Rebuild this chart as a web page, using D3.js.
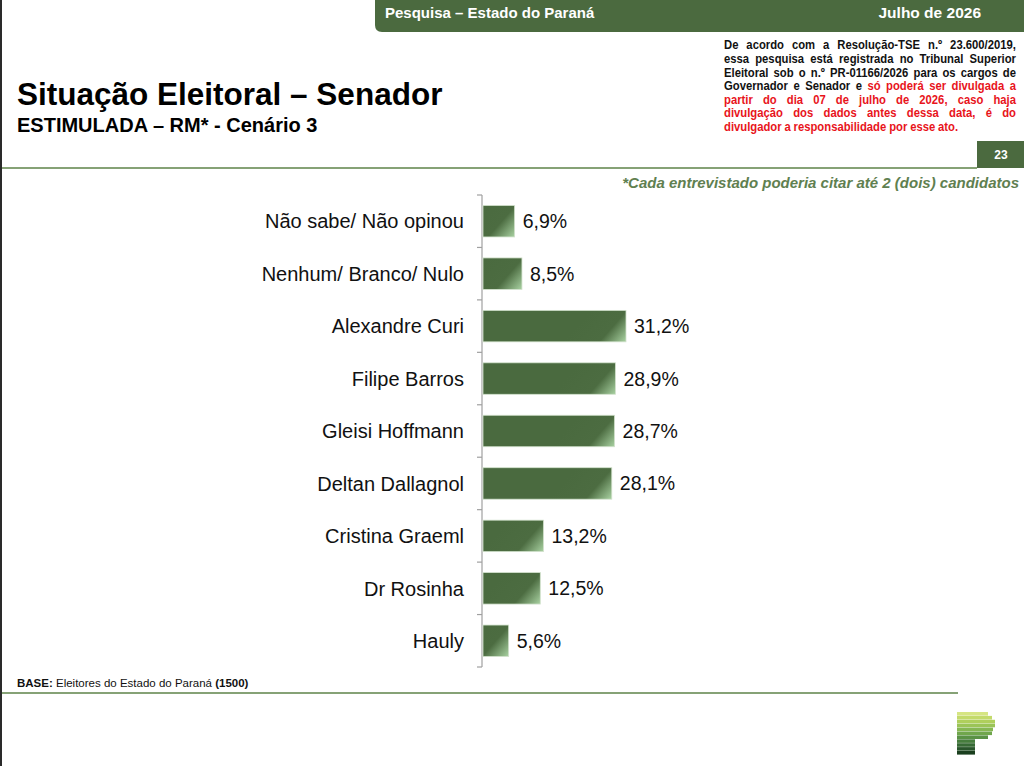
<!DOCTYPE html>
<html>
<head>
<meta charset="utf-8">
<script src="https://cdn.jsdelivr.net/npm/d3@7"></script>
<style>
  body { margin: 0; background: #fff; }
  svg { display: block; }
  text { font-family: "Liberation Sans", Arial, sans-serif; }
</style>
</head>
<body>
<svg width="1024" height="766"></svg>
<script>
// Situação Eleitoral – Senador, estimulada RM, cenário 3

var categories = ["Não sabe/ Não opinou", "Nenhum/ Branco/ Nulo", "Alexandre Curi", "Filipe Barros",
	"Gleisi Hoffmann", "Deltan Dallagnol", "Cristina Graeml", "Dr Rosinha", "Hauly"];
var values = [6.9, 8.5, 31.2, 28.9, 28.7, 28.1, 13.2, 12.5, 5.6];
var value_labels = ["6,9%", "8,5%", "31,2%", "28,9%", "28,7%", "28,1%", "13,2%", "12,5%", "5,6%"];

var legal_lines = [
	[["De acordo com a Resolução-TSE n.º 23.600/2019,", "#111"]],
	[["essa pesquisa está registrada no Tribunal Superior", "#111"]],
	[["Eleitoral sob o n.º PR-01166/2026 para os cargos de", "#111"]],
	[["Governador e Senador e", "#111"], ["só poderá ser divulgada a", "#e8141b"]],
	[["partir do dia 07 de julho de 2026, caso haja", "#e8141b"]],
	[["divulgação dos dados antes dessa data, é do", "#e8141b"]],
	[["divulgador a responsabilidade por esse ato.", "#e8141b"]]
];

var green = "#4b6a3f";
var rule_green = "#86a276";

var svg = d3.select("svg");
var defs = svg.append("defs");

// left page edge
svg.append("rect").attr("x", 0).attr("y", 0).attr("width", 2).attr("height", 766).attr("fill", "#2a2a2a");

// header band
svg.append("path")
	.attr("d", "M375,0 H1024 V32 H382 Q375,32 375,25 Z")
	.attr("fill", green);
svg.append("text").attr("x", 385).attr("y", 18)
	.attr("font-size", 15).attr("font-weight", "bold").attr("fill", "#fff")
	.text("Pesquisa – Estado do Paraná");
svg.append("text").attr("x", 981).attr("y", 18).attr("text-anchor", "end")
	.attr("font-size", 15.5).attr("font-weight", "bold").attr("fill", "#fff")
	.text("Julho de 2026");

// title
svg.append("text").attr("x", 17).attr("y", 105)
	.attr("font-size", 31.5).attr("font-weight", "bold").attr("fill", "#000")
	.text("Situação Eleitoral – Senador");
svg.append("text").attr("x", 17).attr("y", 132)
	.attr("font-size", 20).attr("font-weight", "bold").attr("fill", "#000")
	.text("ESTIMULADA – RM* - Cenário 3");

// legal notice, justified by hand
var legal_left = 724, legal_right = 1016, legal_top = 49.5, legal_step = 13.6;
var squeeze = 0.94;
legal_lines.forEach(function(parts, li){
	var words = [];
	parts.forEach(function(p){
		p[0].split(" ").forEach(function(w){ words.push({w: w, c: p[1]}); });
	});
	var g = svg.append("g");
	var items = g.selectAll("text").data(words).enter().append("text")
		.attr("y", legal_top + li * legal_step)
		.attr("font-size", 12).attr("font-weight", "bold")
		.attr("fill", d => d.c)
		.text(d => d.w);
	var widths = items.nodes().map(n => n.getComputedTextLength());
	var total = d3.sum(widths);
	var space = 3;
	var last = li === legal_lines.length - 1;
	var avail = (legal_right - legal_left) / squeeze;
	var scale = squeeze;
	if (total + space * (words.length - 1) > avail) {
		scale = squeeze * avail / (total + space * (words.length - 1));
	} else if (!last) {
		space = (avail - total) / (words.length - 1);
	}
	var x = 0;
	items.attr("x", function(d, i){ var px = x; x += widths[i] + space; return px; });
	g.attr("transform", "translate(" + legal_left + ",0) scale(" + scale + ",1)");
});

// page number
svg.append("rect").attr("x", 977).attr("y", 141).attr("width", 47).attr("height", 27).attr("fill", green);
svg.append("text").attr("x", 1001).attr("y", 159).attr("text-anchor", "middle")
	.attr("font-size", 12).attr("font-weight", "bold").attr("fill", "#fff").text("23");

// rules
svg.append("rect").attr("x", 2).attr("y", 167).attr("width", 975).attr("height", 2).attr("fill", rule_green);
svg.append("rect").attr("x", 2).attr("y", 692).attr("width", 956).attr("height", 2).attr("fill", rule_green);

svg.append("text").attr("x", 1019).attr("y", 188).attr("text-anchor", "end")
	.attr("font-size", 15).attr("font-weight", "bold").attr("font-style", "italic")
	.attr("fill", "#5f8050")
	.text("*Cada entrevistado poderia citar até 2 (dois) candidatos");

// chart
var axis_x = 482;
var x = d3.scaleLinear().domain([0, 31.2]).range([0, 143]);
var y = d3.scaleBand().domain(categories).range([195, 667]).paddingInner(0.4).paddingOuter(0.2);

var axis = svg.append("g").attr("class", "axis");
axis.append("line")
	.attr("x1", axis_x).attr("x2", axis_x)
	.attr("y1", y.range()[0]).attr("y2", y.range()[1])
	.attr("stroke", "#a0a0a0").attr("stroke-width", 1.2);
var tick_pos = d3.range(categories.length + 1).map(i => y.range()[0] + i * (y.range()[1] - y.range()[0]) / categories.length);
axis.selectAll("line.tick").data(tick_pos).enter().append("line")
	.attr("class", "tick")
	.attr("x1", axis_x - 5).attr("x2", axis_x)
	.attr("y1", d => d).attr("y2", d => d)
	.attr("stroke", "#a0a0a0").attr("stroke-width", 1.2);

var bar = svg.append("g").attr("class", "bars")
	.selectAll("g")
	.data(categories)
	.enter().append("g")
	.attr("transform", c => "translate(" + (axis_x + 1) + "," + y(c) + ")");

bar.each(function(c, i){
	var w = x(values[i]), h = y.bandwidth();
	var grad = defs.append("linearGradient")
		.attr("id", "bar_grad_" + i)
		.attr("gradientUnits", "userSpaceOnUse")
		.attr("x1", w - 36).attr("y1", 0).attr("x2", w).attr("y2", h);
	grad.append("stop").attr("offset", 0).attr("stop-color", "#4a6a3f");
	grad.append("stop").attr("offset", 0.58).attr("stop-color", "#4c6c41");
	grad.append("stop").attr("offset", 1).attr("stop-color", "#a9d2a2");
});

bar.append("rect")
	.attr("width", (c, i) => x(values[i]))
	.attr("height", y.bandwidth())
	.attr("fill", (c, i) => "url(#bar_grad_" + i + ")")
	.attr("stroke", "#d3e2cd").attr("stroke-width", 0.8);

bar.append("text")
	.attr("x", (c, i) => x(values[i]) + 8)
	.attr("y", y.bandwidth() / 2)
	.attr("dy", "0.36em")
	.attr("font-size", 19.5).attr("fill", "#111")
	.text((c, i) => value_labels[i]);

svg.append("g").selectAll("text")
	.data(categories)
	.enter().append("text")
	.attr("x", 464)
	.attr("y", c => y(c) + y.bandwidth() / 2)
	.attr("dy", "0.36em")
	.attr("text-anchor", "end")
	.attr("font-size", 20).attr("fill", "#111")
	.text(c => c);

// base note
var base = svg.append("text").attr("x", 17).attr("y", 687)
	.attr("font-size", 11.5).attr("fill", "#111");
base.append("tspan").attr("font-weight", "bold").text("BASE: ");
base.append("tspan").text("Eleitores do Estado do Paraná ");
base.append("tspan").attr("font-weight", "bold").text("(1500)");

// logo
var logo_colors = ["#d6e583", "#c3da6b", "#afcf5c", "#9bc457", "#86b753", "#70a64c", "#5a9245", "#467d3d", "#376a35", "#29552b", "#1a3f1e"];
var logo_widths = [31, 35, 38, 38, 36, 35, 31, 18, 18, 18, 18];
svg.append("g").selectAll("rect")
	.data(logo_colors)
	.enter().append("rect")
	.attr("x", 957)
	.attr("y", (c, i) => 712 + i * 3.9)
	.attr("width", (c, i) => logo_widths[i])
	.attr("height", 3.6)
	.attr("fill", c => c);
</script>
</body>
</html>
